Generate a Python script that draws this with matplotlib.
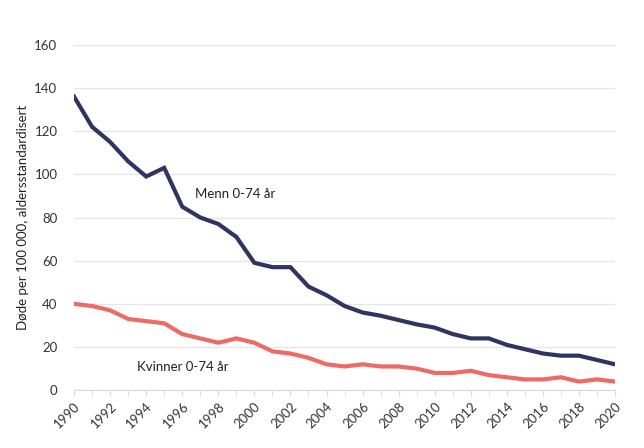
import matplotlib.pyplot as plt

# Data
years = list(range(1990, 2021))
menn = [136, 122, 115, 106, 99, 103, 85, 80, 77, 71, 59, 57, 57, 48, 44, 39, 36,
        34.5, 32.5, 30.5, 29, 26, 24, 24, 21, 19, 17, 16, 16, 14, 12]
kvinner = [40, 39, 37, 33, 32, 31, 26, 24, 22, 24, 22, 18, 17, 15, 12, 11, 12,
           11, 11, 10, 8, 8, 9, 7, 6, 5, 5, 6, 4, 5, 4]
xticks = list(range(1990, 2021, 2))
yticks = list(range(0, 161, 20))

plt.rcParams['font.family'] = ['Lato', 'DejaVu Sans']

fig = plt.figure(figsize=(6.44, 4.48), dpi=100)
ax = fig.add_axes([0.115, 0.129, 0.84, 0.771])

ax.plot(years, menn, color="#2f3460", linewidth=3, solid_joinstyle="miter")
ax.plot(years, kvinner, color="#ee6a64", linewidth=3, solid_joinstyle="miter")

ax.text(1996.7, 91, "Menn 0-74 år", fontsize=9.5, color="#222222", va="center")
ax.text(1993.5, 10.6, "Kvinner 0-74 år", fontsize=9.5, color="#222222", va="center")

ax.set_xlim(1990, 2020)
ax.set_ylim(0, 160)
ax.set_xticks(xticks)
ax.set_xticks(years, minor=True)
ax.set_yticks(yticks)
ax.set_xticklabels([str(y) for y in xticks], rotation=45, ha="right",
                   rotation_mode="anchor", fontsize=9.5, color="#333333")
ax.tick_params(axis="y", length=0, labelsize=9.5, labelcolor="#333333", pad=12)
ax.tick_params(axis="x", which="both", length=4, color="#d9d9d9", pad=3)
ax.grid(axis="y", color="#e6e6e6", linewidth=1)
ax.set_axisbelow(True)
for s in ["top", "right", "left"]:
    ax.spines[s].set_visible(False)
ax.spines["bottom"].set_color("#d9d9d9")
ax.set_ylabel("Døde per 100 000, aldersstandardisert", fontsize=9.5, color="#222222")

fig.savefig("out.png", dpi=100)
